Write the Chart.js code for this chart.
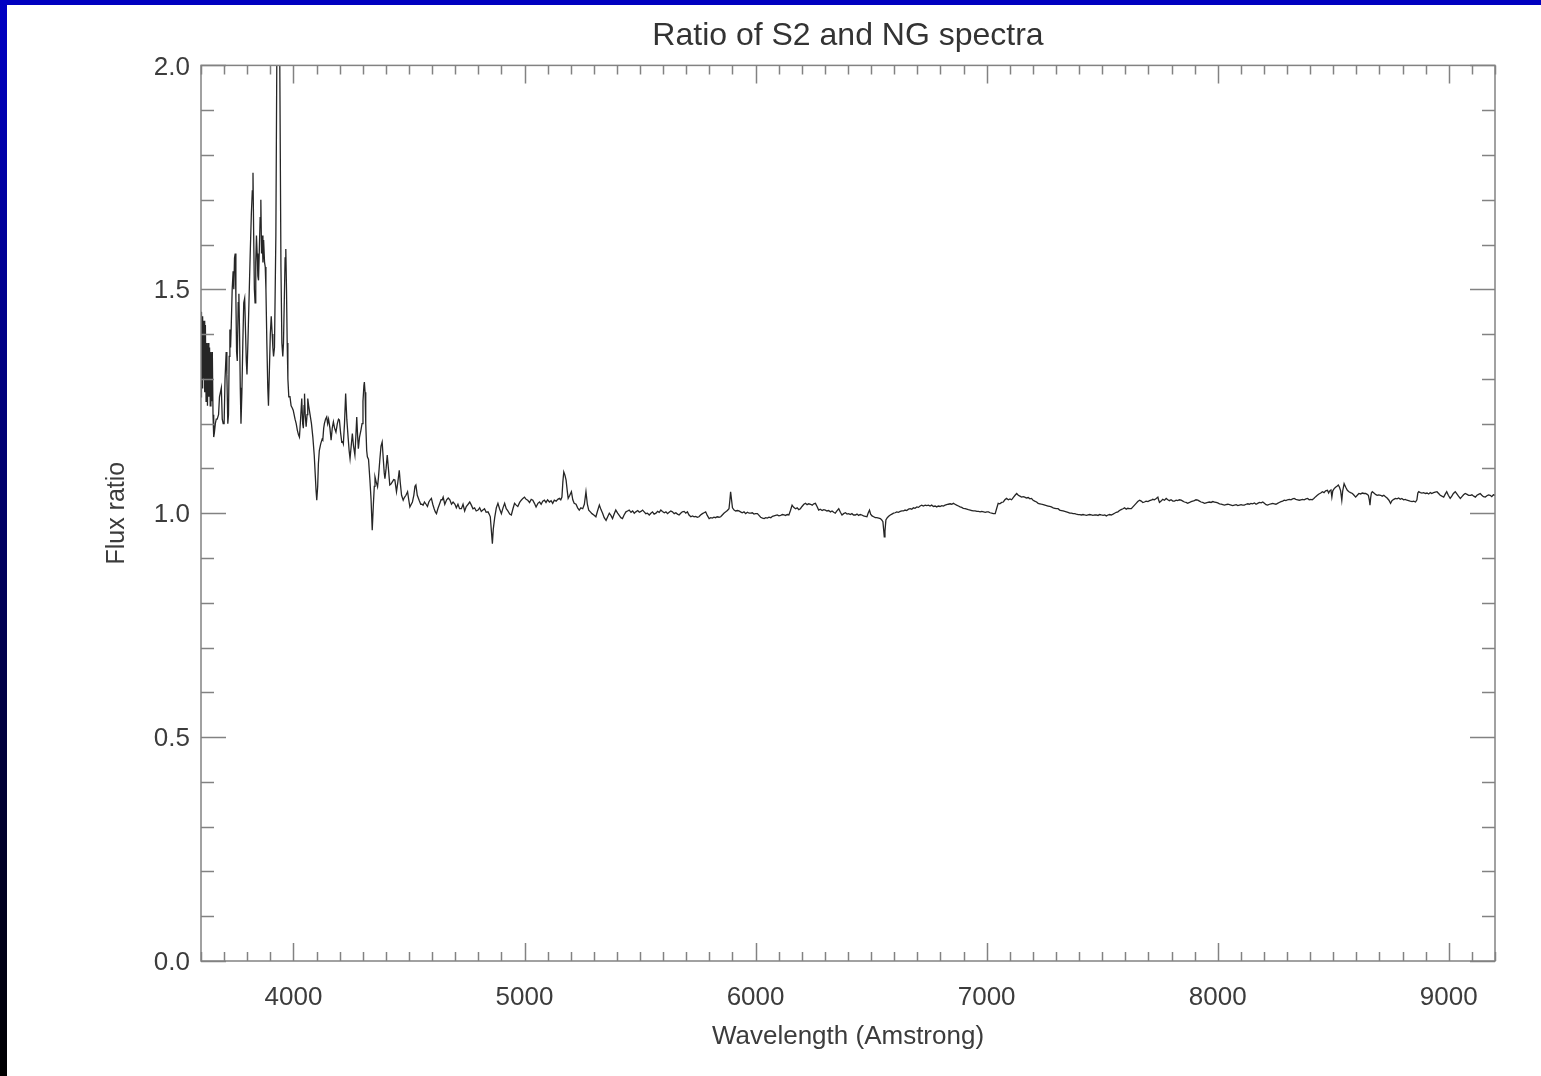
<!DOCTYPE html>
<html>
<head>
<meta charset="utf-8">
<title>Ratio of S2 and NG spectra</title>
<script src="https://cdn.jsdelivr.net/npm/chart.js@4.4.1/dist/chart.umd.min.js"></script>
<style>
  html, body { margin: 0; padding: 0; background: #fff; overflow: hidden; }
  #wrap { position: relative; width: 1541px; height: 1076px; }
  #topbar { position: absolute; left: 0; top: 0; width: 1541px; height: 5px; background: #0000c0; }
  #sidebar { position: absolute; left: 0; top: 0; width: 7px; height: 1076px; background: linear-gradient(#0000c4, #000); }
  canvas { position: absolute; left: 0; top: 0; }
</style>
</head>
<body>
<div id="wrap">
  <canvas id="chart" width="1541" height="1076"></canvas>
  <div id="topbar"></div>
  <div id="sidebar"></div>
</div>
<script>
// wavelength in Angstrom (10 per line)
const wavelength = [
  3600, 3602, 3605, 3607, 3610, 3613, 3616, 3619, 3622, 3625,
  3628, 3631, 3634, 3637, 3640, 3643, 3646, 3649, 3652, 3655,
  3658, 3662, 3666, 3670, 3676, 3680, 3684, 3688, 3692, 3696,
  3700, 3704, 3709, 3712, 3716, 3719, 3722, 3725, 3728, 3731,
  3735, 3739, 3742, 3745, 3748, 3751, 3754, 3757, 3761, 3764,
  3767, 3770, 3773, 3777, 3781, 3785, 3789, 3793, 3796, 3799,
  3803, 3808, 3813, 3818, 3822, 3825, 3828, 3831, 3834, 3837,
  3840, 3843, 3846, 3849, 3852, 3856, 3859, 3862, 3865, 3868,
  3871, 3875, 3878, 3881, 3885, 3889, 3892, 3896, 3900, 3904,
  3908, 3911, 3914, 3918, 3924, 3929, 3933, 3937, 3941, 3946,
  3950, 3954, 3957, 3961, 3964, 3967, 3970, 3973, 3976, 3980,
  3985, 3990, 3995, 3999, 4003, 4007, 4012, 4017, 4022, 4026,
  4031, 4036, 4040, 4043, 4046, 4048, 4051, 4055, 4059, 4062,
  4066, 4072, 4078, 4084, 4090, 4095, 4098, 4101, 4105, 4108,
  4112, 4118, 4124, 4127, 4131, 4134, 4139, 4144, 4148, 4152,
  4158, 4163, 4168, 4173, 4178, 4184, 4190, 4195, 4199, 4204,
  4209, 4213, 4216, 4221, 4226, 4231, 4237, 4241, 4245, 4250,
  4255, 4260, 4266, 4270, 4274, 4278, 4281, 4286, 4292, 4297,
  4301, 4305, 4307, 4310, 4313, 4317, 4320, 4325, 4331, 4336,
  4341, 4346, 4350, 4353, 4358, 4364, 4368, 4374, 4379, 4384,
  4389, 4393, 4396, 4401, 4406, 4411, 4417, 4422, 4428, 4434,
  4439, 4446, 4452, 4458, 4462, 4468, 4475, 4480, 4487, 4494,
  4499, 4504, 4510, 4515, 4521, 4526, 4530, 4536, 4544, 4551,
  4556, 4561, 4567, 4574, 4580, 4586, 4592, 4597, 4603, 4609,
  4614, 4619, 4625, 4632, 4639, 4644, 4648, 4655, 4663, 4670,
  4677, 4684, 4691, 4699, 4705, 4712, 4719, 4727, 4734, 4741,
  4748, 4756, 4763, 4770, 4777, 4784, 4791, 4799, 4806, 4813,
  4820, 4827, 4834, 4842, 4847, 4852, 4856, 4861, 4865, 4871,
  4878, 4885, 4892, 4900, 4907, 4914, 4921, 4928, 4936, 4943,
  4950, 4957, 4964, 4971, 4979, 4986, 4993, 5000, 5007, 5014,
  5022, 5029, 5036, 5043, 5050, 5058, 5065, 5072, 5079, 5086,
  5093, 5100, 5108, 5115, 5122, 5129, 5137, 5144, 5151, 5157,
  5162, 5166, 5170, 5175, 5180, 5185, 5189, 5196, 5203, 5209,
  5215, 5223, 5230, 5237, 5244, 5252, 5259, 5266, 5272, 5278,
  5285, 5292, 5300, 5309, 5316, 5324, 5331, 5338, 5345, 5353,
  5360, 5367, 5374, 5381, 5388, 5395, 5403, 5410, 5417, 5424,
  5431, 5439, 5446, 5453, 5461, 5468, 5475, 5482, 5490, 5497,
  5504, 5511, 5518, 5525, 5532, 5540, 5547, 5554, 5561, 5569,
  5576, 5583, 5590, 5597, 5605, 5612, 5619, 5626, 5633, 5640,
  5648, 5655, 5662, 5669, 5676, 5683, 5691, 5698, 5705, 5712,
  5720, 5727, 5734, 5741, 5748, 5755, 5762, 5770, 5777, 5784,
  5791, 5799, 5806, 5813, 5820, 5827, 5834, 5842, 5849, 5856,
  5863, 5871, 5878, 5885, 5889, 5892, 5896, 5900, 5907, 5914,
  5921, 5928, 5935, 5942, 5950, 5957, 5965, 5972, 5979, 5986,
  5993, 6000, 6008, 6015, 6022, 6030, 6037, 6044, 6051, 6058,
  6066, 6073, 6080, 6087, 6094, 6101, 6109, 6116, 6123, 6130,
  6137, 6144, 6151, 6158, 6165, 6173, 6180, 6187, 6194, 6201,
  6209, 6216, 6223, 6230, 6238, 6245, 6252, 6259, 6266, 6273,
  6280, 6288, 6295, 6302, 6309, 6316, 6324, 6331, 6338, 6345,
  6352, 6360, 6367, 6374, 6381, 6389, 6396, 6403, 6410, 6417,
  6424, 6432, 6439, 6446, 6453, 6460, 6467, 6475, 6482, 6487,
  6493, 6498, 6504, 6511, 6518, 6525, 6533, 6540, 6546, 6551,
  6554, 6557, 6560, 6564, 6570, 6576, 6583, 6590, 6597, 6604,
  6611, 6618, 6626, 6633, 6640, 6647, 6654, 6662, 6669, 6676,
  6683, 6690, 6698, 6705, 6712, 6719, 6726, 6734, 6741, 6748,
  6755, 6762, 6770, 6777, 6784, 6791, 6798, 6806, 6813, 6820,
  6827, 6834, 6842, 6849, 6856, 6863, 6870, 6878, 6885, 6892,
  6899, 6907, 6914, 6921, 6929, 6936, 6943, 6950, 6958, 6965,
  6972, 6979, 6987, 6994, 7001, 7008, 7015, 7022, 7029, 7037,
  7043, 7050, 7057, 7065, 7072, 7079, 7086, 7094, 7101, 7108,
  7115, 7123, 7130, 7137, 7144, 7151, 7158, 7165, 7172, 7180,
  7187, 7194, 7201, 7208, 7216, 7223, 7230, 7237, 7245, 7252,
  7259, 7266, 7273, 7280, 7288, 7295, 7302, 7309, 7316, 7324,
  7331, 7338, 7345, 7352, 7360, 7367, 7374, 7381, 7388, 7396,
  7403, 7410, 7417, 7424, 7432, 7439, 7446, 7453, 7460, 7468,
  7475, 7482, 7489, 7496, 7504, 7511, 7518, 7525, 7532, 7539,
  7547, 7554, 7561, 7568, 7575, 7582, 7590, 7597, 7604, 7611,
  7618, 7626, 7633, 7640, 7647, 7654, 7662, 7669, 7676, 7683,
  7690, 7698, 7705, 7712, 7719, 7726, 7734, 7741, 7744, 7748,
  7755, 7762, 7770, 7777, 7784, 7791, 7798, 7806, 7813, 7820,
  7827, 7834, 7842, 7849, 7856, 7863, 7870, 7878, 7885, 7892,
  7899, 7906, 7914, 7921, 7928, 7935, 7943, 7950, 7957, 7964,
  7971, 7979, 7986, 7993, 8000, 8008, 8015, 8022, 8029, 8036,
  8044, 8051, 8058, 8065, 8072, 8080, 8087, 8094, 8101, 8108,
  8115, 8123, 8130, 8137, 8144, 8151, 8159, 8166, 8173, 8180,
  8188, 8195, 8202, 8209, 8216, 8224, 8231, 8238, 8245, 8252,
  8259, 8266, 8274, 8281, 8288, 8295, 8302, 8310, 8317, 8324,
  8331, 8338, 8346, 8353, 8360, 8367, 8374, 8382, 8389, 8396,
  8403, 8409, 8416, 8424, 8431, 8438, 8446, 8453, 8460, 8467,
  8475, 8480, 8485, 8490, 8494, 8498, 8504, 8510, 8516, 8522,
  8527, 8532, 8537, 8541, 8547, 8554, 8561, 8568, 8575, 8583,
  8590, 8597, 8604, 8611, 8618, 8626, 8633, 8640, 8647, 8652,
  8656, 8659, 8662, 8665, 8669, 8676, 8683, 8690, 8697, 8705,
  8712, 8719, 8726, 8733, 8741, 8745, 8748, 8754, 8762, 8769,
  8776, 8783, 8790, 8797, 8804, 8812, 8819, 8826, 8833, 8841,
  8848, 8856, 8862, 8866, 8870, 8877, 8884, 8891, 8899, 8906,
  8913, 8920, 8926, 8934, 8941, 8949, 8956, 8963, 8970, 8978,
  8984, 8991, 8998, 9006, 9013, 9020, 9028, 9035, 9042, 9050,
  9057, 9064, 9071, 9079, 9086, 9094, 9100, 9108, 9115, 9122,
  9129, 9136, 9143, 9150, 9158, 9165, 9172, 9179, 9186, 9193,
  9200
];

// S2 / NG flux ratio at each wavelength (same line layout as above)
const fluxRatio = [
  1.26, 1.45, 1.28, 1.44, 1.30, 1.43, 1.27, 1.42, 1.25, 1.38,
  1.24, 1.38, 1.26, 1.37, 1.24, 1.36, 1.25, 1.36, 1.22, 1.17,
  1.18, 1.20, 1.21, 1.21, 1.22, 1.26, 1.27, 1.28, 1.21, 1.20,
  1.20, 1.30, 1.36, 1.31, 1.20, 1.22, 1.35, 1.41, 1.37, 1.42,
  1.50, 1.54, 1.50, 1.57, 1.58, 1.48, 1.36, 1.34, 1.47, 1.49,
  1.40, 1.28, 1.20, 1.27, 1.38, 1.47, 1.48, 1.40, 1.34, 1.31,
  1.38, 1.48, 1.58, 1.67, 1.72, 1.76, 1.62, 1.50, 1.47, 1.56,
  1.62, 1.58, 1.53, 1.52, 1.58, 1.66, 1.70, 1.58, 1.62, 1.56,
  1.61, 1.56, 1.55, 1.50, 1.38, 1.28, 1.24, 1.32, 1.40, 1.44,
  1.40, 1.37, 1.35, 1.37, 1.62, 2.10, 2.60, 2.60, 2.00, 1.55,
  1.38, 1.35, 1.38, 1.49, 1.57, 1.59, 1.50, 1.38, 1.30, 1.26,
  1.26, 1.24, 1.235, 1.23, 1.22, 1.21, 1.20, 1.185, 1.175, 1.17,
  1.21, 1.256, 1.20, 1.19, 1.24, 1.267, 1.22, 1.193, 1.22, 1.256,
  1.24, 1.22, 1.20, 1.17, 1.13, 1.08, 1.05, 1.029, 1.06, 1.11,
  1.14, 1.155, 1.165, 1.163, 1.19, 1.20, 1.21, 1.215, 1.20, 1.21,
  1.19, 1.163, 1.19, 1.204, 1.19, 1.181, 1.20, 1.21, 1.208, 1.18,
  1.159, 1.16, 1.155, 1.20, 1.267, 1.21, 1.167, 1.14, 1.122, 1.15,
  1.178, 1.15, 1.13, 1.17, 1.215, 1.17, 1.144, 1.17, 1.185, 1.20,
  1.25, 1.285, 1.293, 1.27, 1.20, 1.14, 1.126, 1.12, 1.074, 1.03,
  0.962, 1.02, 1.06, 1.081, 1.07, 1.059, 1.08, 1.12, 1.15, 1.159,
  1.12, 1.09, 1.077, 1.10, 1.13, 1.10, 1.063, 1.065, 1.07, 1.075,
  1.074, 1.048, 1.07, 1.096, 1.07, 1.04, 1.029, 1.035, 1.04, 1.048,
  1.03, 1.014, 1.02, 1.025, 1.04, 1.06, 1.063, 1.04, 1.029, 1.02,
  1.02, 1.018, 1.025, 1.02, 1.015, 1.025, 1.03, 1.033, 1.02, 1.01,
  1.003, 0.999, 1.01, 1.02, 1.03, 1.03, 1.036, 1.02, 1.03, 1.034,
  1.03, 1.02, 1.025, 1.02, 1.012, 1.02, 1.01, 1.01, 1.02, 1.005,
  1.015, 1.02, 1.025, 1.018, 1.01, 1.012, 1.005, 1.007, 1.012, 1.004,
  1.007, 1.010, 1.002, 1.003, 0.998, 0.992, 0.965, 0.932, 0.965, 0.99,
  1.012, 1.022, 1.01, 0.999, 1.012, 1.022, 1.01, 1.005, 0.998, 0.996,
  1.01, 1.022, 1.018, 1.015, 1.024, 1.029, 1.033, 1.036, 1.031, 1.029,
  1.024, 1.031, 1.029, 1.022, 1.014, 1.022, 1.025, 1.02, 1.027, 1.029,
  1.024, 1.03, 1.025, 1.028, 1.022, 1.029, 1.027, 1.031, 1.033, 1.03,
  1.036, 1.07, 1.092, 1.085, 1.074, 1.05, 1.033, 1.04, 1.048, 1.03,
  1.022, 1.02, 1.012, 1.007, 1.012, 1.01, 1.02, 1.048, 1.02, 1.007,
  1.003, 0.999, 0.996, 0.992, 1.005, 1.018, 1.008, 1.0, 0.99, 0.984,
  0.992, 1.0, 0.995, 0.988, 0.998, 1.007, 1.0, 0.995, 0.99, 0.988,
  0.996, 1.003, 1.005, 1.007, 1.002, 1.005, 1.0, 1.003, 1.006, 1.002,
  1.004, 1.007, 1.003, 0.999, 1.0, 0.996, 1.0, 1.003, 0.998, 1.0,
  1.004, 1.002, 1.007, 1.004, 1.001, 1.003, 0.999, 1.002, 1.005, 1.003,
  0.999, 1.001, 0.998, 0.996, 1.0, 1.003, 1.004, 1.0, 1.003, 0.996,
  0.992, 0.994, 0.992, 0.993, 0.991, 0.992, 0.996, 0.999, 1.001, 1.003,
  0.995, 0.988, 0.99, 0.989, 0.991, 0.99, 0.992, 0.991, 0.992, 0.996,
  1.0, 1.003, 1.006, 1.01, 1.03, 1.048, 1.03, 1.012, 1.007, 1.005,
  1.006, 1.005, 1.003, 1.001, 1.003, 0.999, 1.002, 1.0, 1.0, 1.001,
  0.998, 0.999, 0.999, 0.995, 0.991, 0.989, 0.988, 0.99, 0.989, 0.991,
  0.99, 0.993, 0.994, 0.995, 0.996, 0.994, 0.995, 0.997, 0.996, 0.995,
  0.997, 0.996, 1.006, 1.018, 1.013, 1.01, 1.012, 1.008, 1.01, 1.015,
  1.02, 1.022, 1.019, 1.021, 1.02, 1.018, 1.021, 1.022, 1.015, 1.007,
  1.009, 1.006, 1.008, 1.007, 1.005, 1.006, 1.003, 1.005, 1.002, 1.0,
  1.005, 1.01, 1.002, 0.996, 0.999, 1.001, 0.998, 0.999, 0.997, 0.999,
  0.996, 0.996, 0.998, 0.995, 0.997, 0.996, 0.994, 0.993, 0.992, 1.0,
  1.007, 0.998, 0.994, 0.992, 0.99, 0.99, 0.989, 0.988, 0.985, 0.981,
  0.965, 0.947, 0.96, 0.985, 0.99, 0.993, 0.996, 0.998, 1.0, 1.001,
  1.003, 1.002, 1.004, 1.005, 1.005, 1.007, 1.006, 1.009, 1.01, 1.009,
  1.012, 1.011, 1.014, 1.013, 1.016, 1.018, 1.016, 1.018, 1.017, 1.018,
  1.016, 1.018, 1.015, 1.016, 1.014, 1.016, 1.015, 1.017, 1.016, 1.018,
  1.019, 1.02, 1.021, 1.02, 1.022, 1.02, 1.018, 1.016, 1.014, 1.013,
  1.011, 1.01, 1.009, 1.008, 1.007, 1.006, 1.005, 1.005, 1.004, 1.004,
  1.003, 1.004, 1.003, 1.002, 1.003, 1.003, 1.001, 1.0, 0.999, 0.999,
  1.01, 1.022, 1.021, 1.024, 1.025, 1.03, 1.033, 1.03, 1.032, 1.03,
  1.035, 1.04, 1.044, 1.04, 1.038, 1.036, 1.037, 1.036, 1.034, 1.035,
  1.032, 1.033, 1.029, 1.027, 1.025, 1.022, 1.021, 1.02, 1.019, 1.018,
  1.017, 1.016, 1.015, 1.014, 1.012, 1.011, 1.01, 1.01, 1.007, 1.006,
  1.005, 1.004, 1.003, 1.002, 1.0, 1.0, 0.999, 0.999, 0.998, 0.997,
  0.997, 0.996, 0.997, 0.996, 0.995, 0.996, 0.997, 0.996, 0.995, 0.996,
  0.996, 0.995, 0.997, 0.996, 0.995, 0.996, 0.994, 0.996, 0.997, 0.996,
  0.998, 1.0, 1.002, 1.003, 1.006, 1.008, 1.01, 1.012, 1.009, 1.011,
  1.01, 1.01, 1.014, 1.018, 1.022, 1.026, 1.029, 1.027, 1.024, 1.025,
  1.027, 1.026, 1.028, 1.029, 1.031, 1.03, 1.033, 1.036, 1.03, 1.024,
  1.027, 1.031, 1.029, 1.033, 1.03, 1.028, 1.03, 1.027, 1.027, 1.029,
  1.028, 1.03, 1.029, 1.027, 1.025, 1.024, 1.022, 1.024, 1.026, 1.027,
  1.028, 1.03, 1.029, 1.027, 1.025, 1.024, 1.022, 1.023, 1.024, 1.025,
  1.024, 1.026, 1.025, 1.024, 1.023, 1.021, 1.02, 1.019, 1.018, 1.019,
  1.02, 1.019, 1.018, 1.017, 1.018, 1.019, 1.017, 1.018, 1.019, 1.018,
  1.018, 1.02, 1.021, 1.02, 1.022, 1.021, 1.023, 1.02, 1.022, 1.024,
  1.023, 1.025, 1.022, 1.019, 1.018, 1.02, 1.021, 1.022, 1.021, 1.02,
  1.022, 1.024, 1.026, 1.027, 1.029, 1.028, 1.03, 1.031, 1.03, 1.032,
  1.033, 1.031, 1.03, 1.029, 1.03, 1.031, 1.03, 1.032, 1.033, 1.03,
  1.031, 1.03, 1.033, 1.037, 1.04, 1.043, 1.045, 1.048, 1.046, 1.05,
  1.051, 1.045, 1.05, 1.052, 1.036, 1.05, 1.055, 1.058, 1.06, 1.063,
  1.058, 1.05, 1.029, 1.05, 1.066, 1.058, 1.051, 1.048, 1.046, 1.044,
  1.04, 1.036, 1.04, 1.044, 1.043, 1.045, 1.044, 1.044, 1.042, 1.04,
  1.03, 1.018, 1.035, 1.045, 1.048, 1.045, 1.042, 1.04, 1.041, 1.04,
  1.038, 1.04, 1.037, 1.034, 1.029, 1.025, 1.022, 1.028, 1.031, 1.033,
  1.032, 1.034, 1.031, 1.033, 1.03, 1.031, 1.029, 1.028, 1.027, 1.026,
  1.027, 1.025, 1.03, 1.045, 1.048, 1.046, 1.045, 1.046, 1.044, 1.045,
  1.043, 1.046, 1.044, 1.046, 1.047, 1.048, 1.044, 1.04, 1.038, 1.036,
  1.042, 1.048, 1.04, 1.033, 1.038, 1.044, 1.048, 1.043, 1.038, 1.033,
  1.037, 1.041, 1.044, 1.042, 1.04, 1.04, 1.041, 1.038, 1.036, 1.04,
  1.042, 1.044, 1.04, 1.037, 1.036, 1.039, 1.041, 1.04, 1.037, 1.041,
  1.04
];

// axes
const xRange = [3600, 9200];
const yRange = [0, 2];
const xMajorTicks = [4000, 5000, 6000, 7000, 8000, 9000];
const yMajorTicks = [0, 0.5, 1.0, 1.5, 2.0];
const xMinorStep = 100;
const yMinorStep = 0.1;

const FONT = '"Liberation Sans", Arial, Helvetica, sans-serif';
const TEXT = '#3c3c3c';
const AXIS = '#828282';

// IDL style box with inward ticks on all four sides
const boxTicks = {
  id: 'boxTicks',
  afterDatasetsDraw(chart) {
    const {ctx, chartArea: a, scales: {x, y}} = chart;
    ctx.save();
    ctx.strokeStyle = AXIS;
    ctx.lineWidth = 1.5;
    ctx.strokeRect(a.left, a.top, a.right - a.left, a.bottom - a.top);
    ctx.beginPath();
    const nx = Math.round((xRange[1] - xRange[0]) / xMinorStep);
    for (let i = 0; i <= nx; i++) {
      const v = xRange[0] + i * xMinorStep;
      const px = Math.round(x.getPixelForValue(v)) + 0.5;
      const len = xMajorTicks.includes(v) ? 18 : 9;
      ctx.moveTo(px, a.bottom); ctx.lineTo(px, a.bottom - len);
      ctx.moveTo(px, a.top); ctx.lineTo(px, a.top + len);
    }
    const ny = Math.round((yRange[1] - yRange[0]) / yMinorStep);
    for (let i = 0; i <= ny; i++) {
      const v = yRange[0] + i * yMinorStep;
      const py = Math.round(y.getPixelForValue(v)) + 0.5;
      const len = (i % 5 === 0) ? 25 : 13;
      ctx.moveTo(a.left, py); ctx.lineTo(a.left + len, py);
      ctx.moveTo(a.right, py); ctx.lineTo(a.right - len, py);
    }
    ctx.stroke();
    ctx.restore();
  }
};

new Chart(document.getElementById('chart'), {
  type: 'line',
  data: {
    datasets: [{
      data: wavelength.map((w, i) => ({x: w, y: fluxRatio[i]})),
      borderColor: '#262626',
      borderWidth: 1.3,
      pointRadius: 0,
      tension: 0,
      fill: false
    }]
  },
  options: {
    responsive: false,
    animation: false,
    layout: {padding: {left: 8, right: 46, top: 0, bottom: 0}},
    plugins: {
      legend: {display: false},
      tooltip: {enabled: false},
      title: {
        display: true,
        fullSize: false,   // centre over the plot box, not the page
        text: 'Ratio of S2 and NG spectra',
        color: '#333',
        font: {family: FONT, size: 32, weight: 'normal'},
        padding: {top: 17, bottom: 10}
      }
    },
    scales: {
      x: {
        type: 'linear',
        min: xRange[0],
        max: xRange[1],
        grid: {display: false, drawTicks: false},
        border: {display: false},
        afterBuildTicks: s => { s.ticks = xMajorTicks.map(v => ({value: v})); },
        afterFit: s => { s.height = 115; },
        ticks: {
          color: TEXT,
          font: {family: FONT, size: 26},
          padding: 21,
          maxRotation: 0,
          autoSkip: false,
          callback: v => String(v)
        },
        title: {
          display: true,
          text: 'Wavelength (Amstrong)',
          color: TEXT,
          font: {family: FONT, size: 26},
          padding: {top: 0, bottom: 24}
        }
      },
      y: {
        type: 'linear',
        min: yRange[0],
        max: yRange[1],
        grid: {display: false, drawTicks: false},
        border: {display: false},
        afterBuildTicks: s => { s.ticks = yMajorTicks.map(v => ({value: v})); },
        afterFit: s => { s.width = 193; },
        ticks: {
          color: TEXT,
          font: {family: FONT, size: 26},
          padding: 11,
          labelOffset: 2,
          callback: v => v.toFixed(1)
        },
        title: {
          display: true,
          text: 'Flux ratio',
          color: TEXT,
          font: {family: FONT, size: 25},
          padding: {top: 94, bottom: 0}
        }
      }
    }
  },
  plugins: [boxTicks]
});
</script>
</body>
</html>
